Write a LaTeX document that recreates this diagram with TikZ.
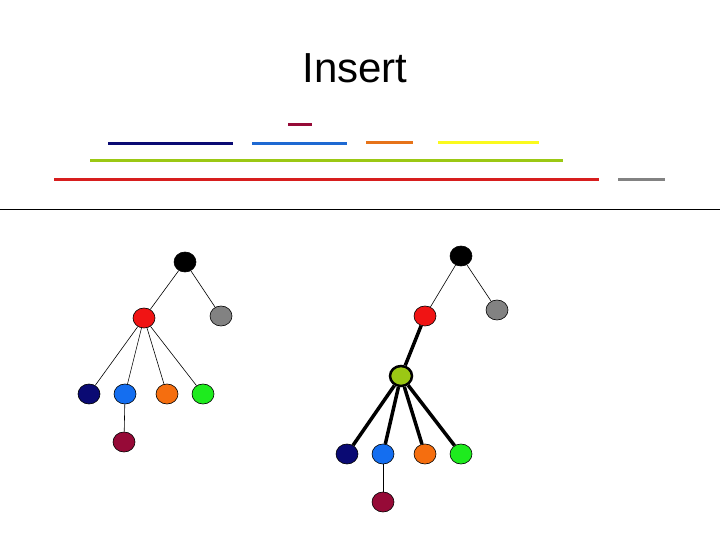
\documentclass[tikz,border=0pt]{standalone}
\usepackage{fontspec}
\setmainfont{Liberation Sans}
\usetikzlibrary{shapes.geometric}
\definecolor{navyc}{RGB}{10,10,115}
\definecolor{bluec}{RGB}{20,110,240}
\definecolor{orangec}{RGB}{245,110,15}
\definecolor{greenc}{RGB}{30,235,30}
\definecolor{maroonc}{RGB}{150,10,55}
\definecolor{limec}{RGB}{155,200,20}
\definecolor{grayc}{RGB}{130,130,130}
\definecolor{redc}{RGB}{240,20,20}
\definecolor{yellowc}{RGB}{250,250,30}
\definecolor{redbar}{RGB}{215,30,30}
\definecolor{bluebar}{RGB}{30,105,210}
\definecolor{orangebar}{RGB}{230,115,25}

\tikzset{
  vert/.style={ellipse, draw=black, line width=0.6pt, minimum width=22pt, minimum height=20pt, inner sep=0pt},
  edge/.style={line width=0.6pt},
  hot/.style={line width=3.5pt},
  bar/.style={line width=3pt}
}

\begin{document}
\begin{tikzpicture}[x=1pt, y=-1pt]
  \useasboundingbox (0,0) rectangle (720,540);
  \node (title) at (355,68) {\fontsize{42}{48}\selectfont Insert};
  % intervals
  \draw[bar, maroonc] (288,125) -- (312,125);
  \draw[bar, navyc] (108,144) -- (233,144);
  \draw[bar, bluebar] (252,144) -- (347,144);
  \draw[bar, orangebar] (366,143) -- (413,143);
  \draw[bar, yellowc] (438,143) -- (539,143);
  \draw[bar, limec] (90,161) -- (563,161);
  \draw[bar, redbar] (54,180) -- (599,180);
  \draw[bar, grayc] (618,180) -- (665,180);
  \draw[line width=1pt] (0,210) -- (720,210);
  % tree before
  \node[vert, fill=black] (a1) at (185,262) {};
  \node[vert, fill=grayc] (g1) at (221,316) {};
  \node[vert, fill=redc] (r1) at (144,318) {};
  \node[vert, fill=navyc] (n1) at (89,394) {};
  \node[vert, fill=bluec] (b1) at (125,394) {};
  \node[vert, fill=orangec] (o1) at (167,394) {};
  \node[vert, fill=greenc] (e1) at (203,394) {};
  \node[vert, fill=maroonc] (m1) at (124,442) {};
  \draw[edge] (a1) -- (r1);
  \draw[edge] (a1) -- (g1);
  \foreach \c in {n1,b1,o1,e1} \draw[edge] (r1) -- (\c);
  \draw[edge] (b1) -- (m1);
  % tree after
  \node[vert, fill=black] (a2) at (461,256) {};
  \node[vert, fill=grayc] (g2) at (497,310) {};
  \node[vert, fill=redc] (r2) at (425,316) {};
  \node[vert, fill=limec, line width=2.5pt] (l2) at (401,376) {};
  \node[vert, fill=navyc] (n2) at (347,454) {};
  \node[vert, fill=bluec] (b2) at (383,454) {};
  \node[vert, fill=orangec] (o2) at (425,454) {};
  \node[vert, fill=greenc] (e2) at (461,454) {};
  \node[vert, fill=maroonc] (m2) at (383,502) {};
  \draw[edge] (a2) -- (r2);
  \draw[edge] (a2) -- (g2);
  \draw[hot] (r2) -- (l2);
  \foreach \c in {n2,b2,o2,e2} \draw[hot] (l2) -- (\c);
  \draw[edge] (b2) -- (m2);
\end{tikzpicture}
\end{document}
